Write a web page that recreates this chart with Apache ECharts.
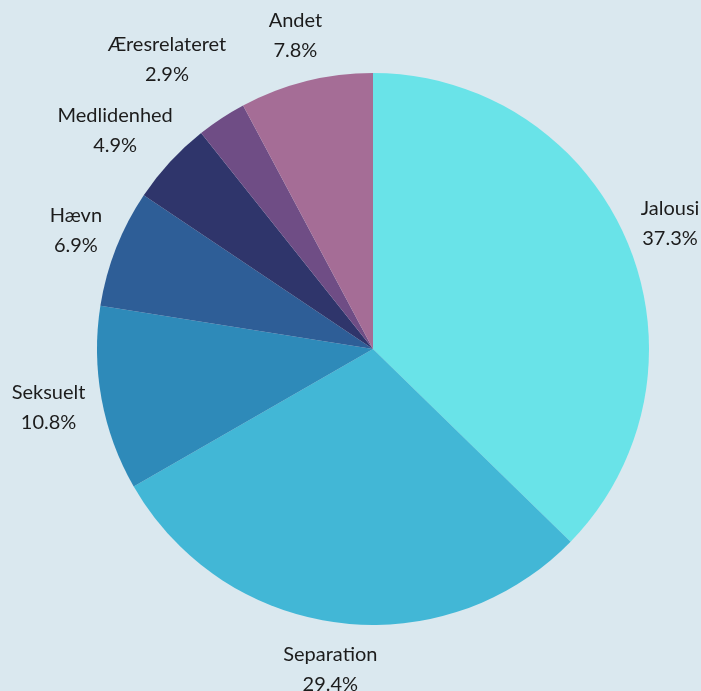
<!DOCTYPE html>
<html>
<head>
<meta charset="utf-8">
<script src="https://cdn.jsdelivr.net/npm/echarts@6/dist/echarts.min.js"></script>
<style>
    html, body {margin: 0; padding: 0; background: #DAE8EF;}
    #chart {width: 701px; height: 691px;}
</style>
</head>
<body>
<div id="chart"></div>
<script>
const categories = ['Jalousi', 'Separation', 'Seksuelt', 'Hævn', 'Medlidenhed', 'Æresrelateret', 'Andet'];
const shares = [37.3, 29.4, 10.8, 6.9, 4.9, 2.9, 7.8];
const colors = ['#69E3E8', '#42B7D6', '#2E8AB9', '#2E5E97', '#2F356B', '#6F4D85', '#A56D96'];

const cx = 373, cy = 349, R = 276;
const fontSize = 20, lineH = 30, gap = 17, pad = 10;
const fontFamily = 'Lato';

// measure label boxes so they can sit just outside the rim, like the original
const ctx = document.createElement('canvas').getContext('2d');
ctx.font = fontSize + 'px ' + fontFamily;
const total = shares.reduce((a, b) => a + b, 0);
let acc = 0;
const boxes = shares.map((v, i) => {
    const mid = (acc + v / 2) / total * 2 * Math.PI;
    acc += v;
    const pct = v.toFixed(1) + '%';
    return {
        dx: Math.sin(mid),
        dy: -Math.cos(mid),
        w: Math.max(ctx.measureText(categories[i]).width, ctx.measureText(pct).width),
        h: lineH * 2
    };
});

function place(b, g) {
    b.x = cx + (R + g) * b.dx + b.dx * b.w / 2;
    b.y = cy + (R + g) * b.dy + b.dy * b.h / 2;
}

function hits(a, b) {
    return Math.abs(a.x - b.x) < (a.w + b.w) / 2 + pad && Math.abs(a.y - b.y) < (a.h + b.h) / 2 + pad;
}

// clockwise from the first slice, push a label out if it hits one already placed
const placed = [];
boxes.forEach(b => {
    let g = gap;
    place(b, g);
    while (placed.some(p => hits(p, b)) && g < 200) {
        g += 1;
        place(b, g);
    }
    placed.push(b);
});

const chart = echarts.init(document.getElementById('chart'));

const option = {
    backgroundColor: '#DAE8EF',
    animation: false,
    series: [{
        type: 'pie',
        center: [cx, cy],
        radius: R,
        startAngle: 90,
        clockwise: true,
        avoidLabelOverlap: false,
        data: categories.map((name, i) => ({
            name: name,
            value: shares[i],
            itemStyle: {color: colors[i]}
        })),
        label: {
            show: true,
            position: 'outside',
            color: '#1c1c1c',
            fontFamily: fontFamily,
            fontSize: fontSize,
            lineHeight: lineH,
            formatter: p => p.name + '\n' + p.value.toFixed(1) + '%'
        },
        labelLine: {show: false},
        labelLayout: params => ({
            x: boxes[params.dataIndex].x,
            y: boxes[params.dataIndex].y,
            align: 'center',
            verticalAlign: 'middle'
        }),
        emphasis: {disabled: true}
    }]
};

chart.setOption(option);
</script>
</body>
</html>
